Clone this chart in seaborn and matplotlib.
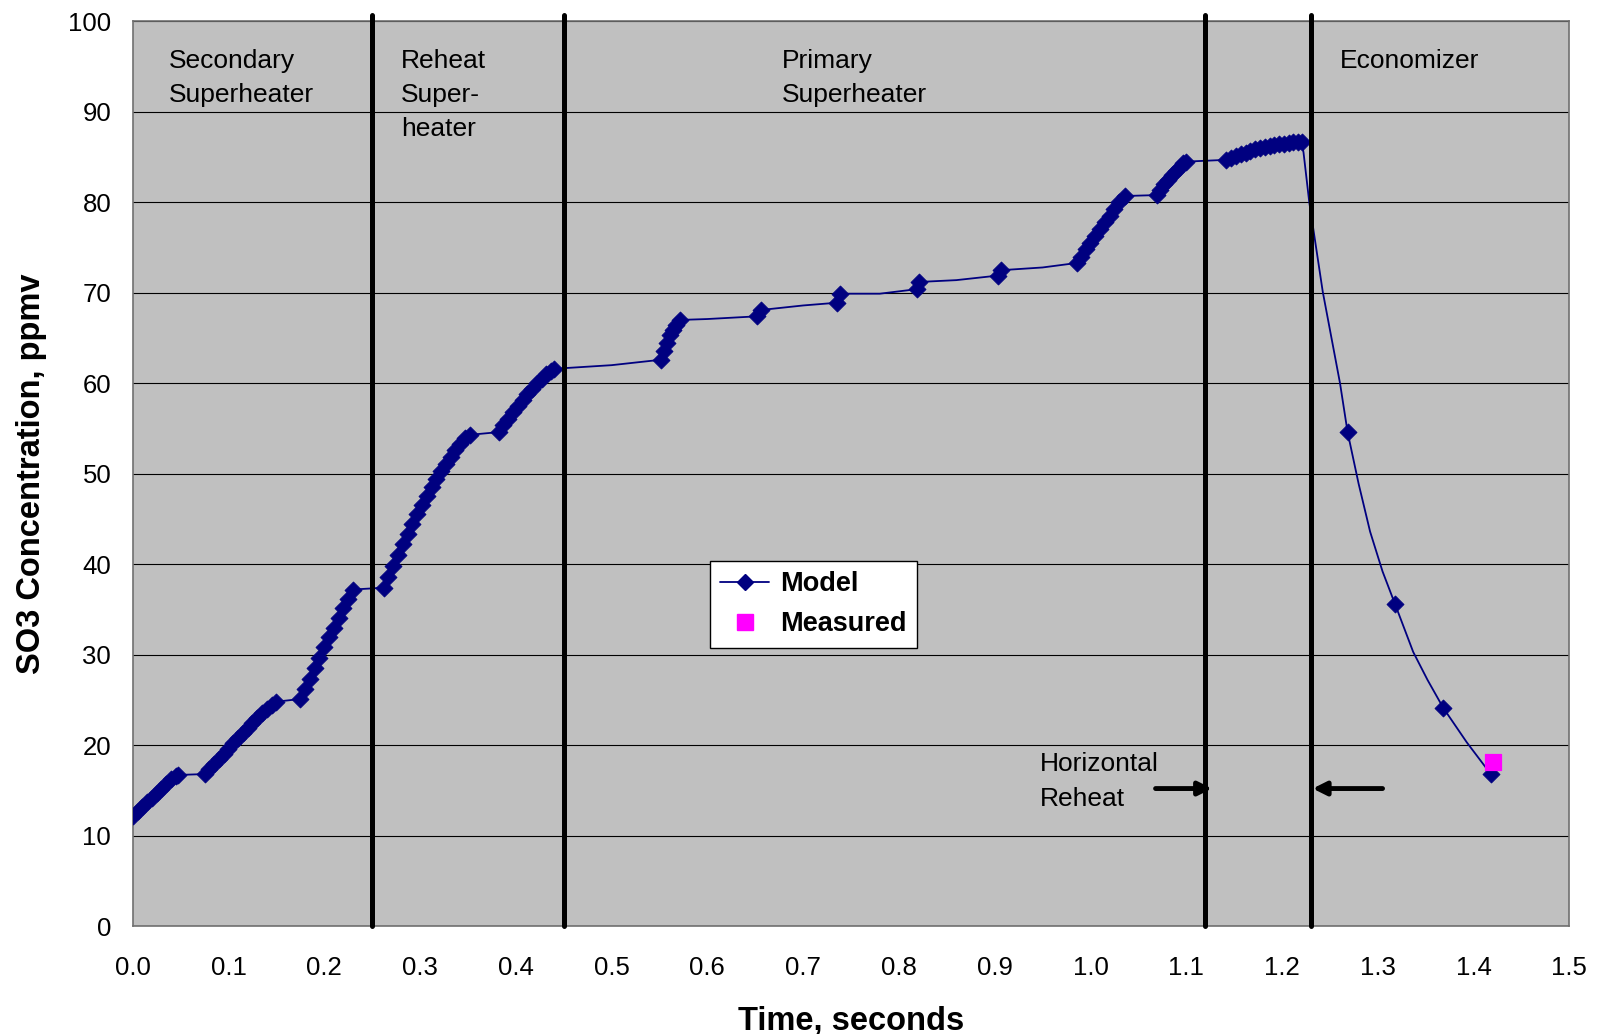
import matplotlib
matplotlib.use("Agg")
import numpy as np
import pandas as pd
import matplotlib.pyplot as plt
import seaborn as sns
from matplotlib.lines import Line2D

# model points drawn with diamond markers (time s, SO3 ppmv)
model_time = [0.000, 0.005, 0.010, 0.015, 0.020, 0.025, 0.030, 0.035, 0.040, 0.045, 0.047,
              0.075, 0.080, 0.085, 0.090, 0.095, 0.100, 0.105, 0.110, 0.115, 0.120, 0.125, 0.130, 0.135, 0.140, 0.145, 0.150,
              0.175, 0.180, 0.185, 0.190, 0.195, 0.200, 0.205, 0.210, 0.215, 0.220, 0.225, 0.230,
              0.262, 0.267, 0.272, 0.277, 0.282, 0.287, 0.292, 0.297, 0.302, 0.307, 0.312, 0.317, 0.322, 0.327, 0.332, 0.337, 0.342, 0.347, 0.352,
              0.382, 0.387, 0.392, 0.397, 0.402, 0.407, 0.412, 0.417, 0.422, 0.427, 0.432, 0.437, 0.440,
              0.5515, 0.555, 0.558, 0.561, 0.564, 0.567, 0.5715,
              0.652, 0.656, 0.735, 0.7385, 0.8185, 0.8215, 0.903, 0.907,
              0.986, 0.990, 0.995, 1.000, 1.005, 1.010, 1.015, 1.020, 1.025, 1.030, 1.036,
              1.069, 1.073, 1.077, 1.081, 1.085, 1.089, 1.093, 1.097, 1.100,
              1.142, 1.147, 1.152, 1.157, 1.162, 1.167, 1.172, 1.177, 1.182, 1.187, 1.192, 1.197, 1.202, 1.207, 1.212, 1.217, 1.2205,
              1.2685, 1.318, 1.3685, 1.418]
model_so3 = [12.2, 12.7, 13.2, 13.7, 14.2, 14.7, 15.2, 15.7, 16.2, 16.6, 16.7,
             16.8, 17.4, 17.9, 18.5, 19.0, 19.6, 20.2, 20.8, 21.3, 21.9, 22.5, 23.0, 23.5, 24.0, 24.4, 24.8,
             25.1, 26.2, 27.3, 28.5, 29.6, 30.8, 31.9, 33.0, 34.1, 35.2, 36.2, 37.2,
             37.4, 38.6, 39.8, 41.0, 42.2, 43.3, 44.4, 45.5, 46.5, 47.5, 48.5, 49.4, 50.3, 51.1, 51.9, 52.6, 53.3, 53.9, 54.3,
             54.6, 55.4, 56.1, 56.8, 57.5, 58.2, 58.8, 59.4, 60.0, 60.5, 61.0, 61.4, 61.6,
             62.6, 63.6, 64.5, 65.3, 65.9, 66.4, 67.0,
             67.4, 68.1, 68.9, 69.9, 70.4, 71.2, 71.9, 72.5,
             73.3, 74.0, 74.8, 75.5, 76.3, 77.0, 77.8, 78.5, 79.3, 80.0, 80.7,
             80.8, 81.4, 82.0, 82.5, 83.0, 83.5, 83.9, 84.3, 84.5,
             84.7, 84.9, 85.1, 85.3, 85.5, 85.7, 85.9, 86.0, 86.1, 86.2, 86.3, 86.4, 86.5, 86.6, 86.7, 86.7, 86.7,
             54.6, 35.6, 24.1, 16.8]

# extra points on the (smoothed) model line that carry no marker
line_time = [0.500, 0.600, 0.700, 0.780, 0.860, 0.950,
             1.2225, 1.2285, 1.2426, 1.2606, 1.280, 1.292, 1.305, 1.337, 1.352, 1.393]
line_so3 = [62.0, 67.1, 68.6, 69.9, 71.4, 72.8,
            85.5, 80.0, 70.1, 60.0, 48.9, 43.6, 39.2, 30.3, 27.2, 20.3]

measured_time = [1.420]
measured_so3 = [18.1]

section_bounds = [0.25, 0.45, 1.12, 1.23]
section_labels = ["Secondary\nSuperheater", "Reheat\nSuper-\nheater", "Primary\nSuperheater", "Economizer"]
section_label_x = [0.038, 0.280, 0.678, 1.260]

x_ticks = np.round(np.arange(0, 1.51, 0.1), 1)
y_ticks = np.arange(0, 101, 10)

model_pts = pd.DataFrame({"time": model_time, "so3": model_so3})
line_pts = pd.concat([model_pts, pd.DataFrame({"time": line_time, "so3": line_so3})]).sort_values("time")
measured = pd.DataFrame({"time": measured_time, "so3": measured_so3})

sns.set_style("white")
plt.rcParams["font.family"] = ["Liberation Sans", "DejaVu Sans"]
plt.rcParams["text.color"] = "black"
plt.rcParams["axes.labelcolor"] = "black"
plt.rcParams["xtick.color"] = "black"
plt.rcParams["ytick.color"] = "black"

navy = "#000080"
fig, ax = plt.subplots(figsize=(16.01, 10.34), dpi=100)
ax.set_facecolor("#c0c0c0")

sns.lineplot(data=line_pts, x="time", y="so3", sort=False, estimator=None,
             color=navy, lw=1.3, ax=ax, zorder=3)
sns.scatterplot(data=model_pts, x="time", y="so3", marker="D", s=75, color=navy,
                edgecolor=navy, linewidth=0.6, ax=ax, zorder=4)
sns.scatterplot(data=measured, x="time", y="so3", marker="s", s=120, color="#ff00ff",
                edgecolor="#ff00ff", ax=ax, zorder=5)

for xb in section_bounds:
    ax.axvline(xb, ymin=0, ymax=1.007, color="black", lw=3.6, clip_on=False, zorder=6)

for lbl, xl in zip(section_labels, section_label_x):
    ax.text(xl, 97.0, lbl, fontsize=19, va="top", ha="left", linespacing=1.55)

ax.text(0.947, 19.2, "Horizontal\nReheat", fontsize=19, va="top", ha="left", linespacing=1.55)
ax.annotate("", xy=(1.127, 15.2), xytext=(1.068, 15.2),
            arrowprops=dict(arrowstyle="-|>", color="black", lw=3.5, mutation_scale=20, shrinkA=0, shrinkB=0))
ax.annotate("", xy=(1.232, 15.2), xytext=(1.305, 15.2),
            arrowprops=dict(arrowstyle="-|>", color="black", lw=3.5, mutation_scale=20, shrinkA=0, shrinkB=0))

ax.set_xlim(0, 1.5)
ax.set_ylim(0, 100)
ax.set_xticks(x_ticks)
ax.set_xticklabels([f"{t:.1f}" for t in x_ticks])
ax.set_yticks(y_ticks)
ax.yaxis.grid(True, color="black", lw=0.8)
ax.set_axisbelow(True)
ax.tick_params(axis="both", direction="out", length=6.5, width=1, color="#606060", labelsize=18.5)
ax.tick_params(axis="y", pad=9)
ax.tick_params(axis="x", pad=15)
for side in ["left", "bottom", "top", "right"]:
    ax.spines[side].set_color("#707070")
    ax.spines[side].set_linewidth(1.2)

ax.set_xlabel("Time, seconds", fontsize=23.5, fontweight="bold")
ax.set_ylabel("SO3 Concentration, ppmv", fontsize=23.5, fontweight="bold")
ax.xaxis.set_label_coords(0.5, -0.1055)
ax.xaxis.label.set_va("center")
ax.yaxis.set_label_coords(-0.0705, 0.5)
ax.yaxis.label.set_va("center")

handles = [Line2D([0], [0], color=navy, lw=1.3, marker="D", markersize=8.5),
           Line2D([0], [0], color="none", marker="s", markersize=11, markerfacecolor="#ff00ff",
                  markeredgecolor="#ff00ff")]
leg = ax.legend(handles, ["Model", "Measured"], loc="upper left", bbox_to_anchor=(0.4016, 0.404),
                borderaxespad=0, frameon=True, fancybox=False, edgecolor="black", facecolor="white",
                framealpha=1, prop={"weight": "bold", "size": 19.5}, handlelength=1.8,
                handletextpad=0.4, borderpad=0.4, labelspacing=0.52)
leg.get_frame().set_linewidth(1.0)
leg.set_zorder(7)

plt.subplots_adjust(left=0.0829, right=0.9802, top=0.9793, bottom=0.1044)
plt.savefig("out.png", dpi=100)
